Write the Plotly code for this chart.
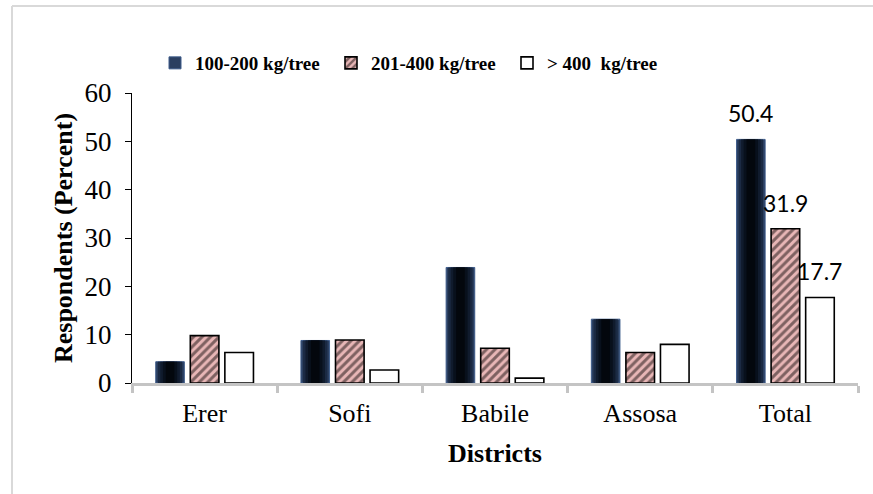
import plotly.graph_objects as go

# Yield classes of respondents per district (percent)
districts = ["Erer", "Sofi", "Babile", "Assosa", "Total"]
yield_100_200 = [4.4, 8.8, 23.9, 13.2, 50.4]
yield_201_400 = [9.8, 8.9, 7.2, 6.3, 31.9]
yield_over_400 = [6.3, 2.7, 1.0, 8.0, 17.7]
series_names = ["100-200 kg/tree", "201-400 kg/tree", ">\u00a0400\u00a0\u00a0kg/tree"]
labelled_category = "Total"

# figure geometry (pixels)
W, H = 873, 494
ML, MR, MT, MB = 132, 15, 93, 111
PW, PH = W - ML - MR, H - MT - MB

SLOT = 0.238      # distance between bar centres within a group (category units)
BAR_W = 0.197     # bar width (category units)

fig = go.Figure()

# dark navy bars with a horizontal shading: stacked layers, narrowing towards the centre
shade_layers = [
    (1.00, "#2b3f60"),
    (0.85, "#1b2a43"),
    (0.68, "#101b2d"),
    (0.50, "#08101c"),
    (0.30, "#03070d"),
]
centre0 = -SLOT
for i, (frac, col) in enumerate(shade_layers):
    w = BAR_W * frac
    fig.add_trace(go.Bar(
        x=districts, y=yield_100_200, name=series_names[0],
        width=w, offset=centre0 - w / 2,
        marker=dict(color=col,
                    line=dict(color="#3f5d8c" if i == 0 else col, width=1 if i == 0 else 0)),
        showlegend=(i == 0), legendrank=1, hoverinfo="skip" if i else None,
    ))

# hatched bars
fig.add_trace(go.Bar(
    x=districts, y=yield_201_400, name=series_names[1],
    width=BAR_W, offset=-BAR_W / 2,
    marker=dict(color="#e8b6b6",
                pattern=dict(shape="/", fgcolor="#140c0c", size=6, solidity=0.5),
                line=dict(color="#000000", width=1.6)),
    legendrank=2,
))

# open bars
fig.add_trace(go.Bar(
    x=districts, y=yield_over_400, name=series_names[2],
    width=BAR_W, offset=SLOT - BAR_W / 2,
    marker=dict(color="#ffffff", line=dict(color="#000000", width=1.6)),
    legendrank=3,
))

# value labels over the Total group
k = districts.index(labelled_category)
for vals, dx in [(yield_100_200, -SLOT), (yield_201_400, 0.0), (yield_over_400, SLOT)]:
    fig.add_annotation(
        x=k + dx, y=vals[k], text=f"{vals[k]:.1f}", showarrow=False,
        xref="x", yref="y", yanchor="middle", yshift=26,
        font=dict(family="Lato, Liberation Sans, sans-serif", size=23, color="#000000"),
    )

# light frame around the chart
def px_x(p):
    return (p - ML) / PW

def px_y(p):
    return (H - MB - p) / PH

frame = dict(color="#d9d9d9", width=2)
fig.add_shape(type="line", xref="paper", yref="paper",
              x0=px_x(12), x1=px_x(12), y0=px_y(6), y1=px_y(H + 2), line=frame)
fig.add_shape(type="line", xref="paper", yref="paper",
              x0=px_x(12), x1=px_x(W + 2), y0=px_y(6), y1=px_y(6), line=frame)

serif = "Liberation Serif, Times New Roman, serif"
fig.update_layout(
    width=W, height=H,
    margin=dict(l=ML, r=MR, t=MT, b=MB, pad=0),
    paper_bgcolor="#ffffff", plot_bgcolor="#ffffff",
    barmode="overlay",
    font=dict(family=serif, color="#000000"),
    showlegend=True,
    legend=dict(
        orientation="h", x=px_x(155), xanchor="left", y=px_y(63), yanchor="middle",
        font=dict(family=serif, size=19, color="#000000", weight="bold"),
        entrywidth=131, itemwidth=30, bgcolor="rgba(0,0,0,0)",
        traceorder="normal",
    ),
    xaxis=dict(
        type="category", categoryorder="array", categoryarray=districts,
        range=[-0.5, len(districts) - 0.5],
        showline=True, linecolor="#c4c4c4", linewidth=3,
        ticks="outside", tickson="boundaries", ticklen=7, tickwidth=2.5, tickcolor="#c4c4c4",
        tickfont=dict(family=serif, size=26, color="#000000"),
        ticklabelstandoff=5,
        showgrid=False, zeroline=False,
        title=dict(text="<b>Districts</b>", font=dict(family=serif, size=26), standoff=17),
    ),
    yaxis=dict(
        range=[0, 60], dtick=10, tick0=0,
        showline=True, linecolor="#000000", linewidth=1.3,
        ticks="outside", ticklen=6, tickwidth=1.3, tickcolor="#000000",
        tickfont=dict(family=serif, size=27, color="#000000"),
        ticklabelstandoff=8,
        showgrid=False, zeroline=False,
        title=dict(text="<b>Respondents (Percent)</b>", font=dict(family=serif, size=26), standoff=4),
    ),
)

fig.write_html("out.html")
